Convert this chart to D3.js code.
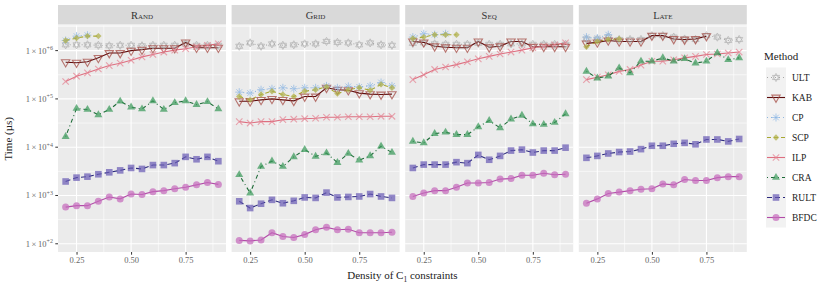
<!DOCTYPE html>
<html>
<head>
<meta charset="utf-8">
<title>Time vs density</title>
<script src="https://d3js.org/d3.v7.min.js" charset="utf-8"></script>
<style>
  body { margin: 0; background: #fff; }
  text { font-family: "Liberation Serif", "Times New Roman", serif; font-weight: 400; }
</style>
</head>
<body>
<script>
// x values (density of C1 constraints)
const density = [0.20, 0.25, 0.30, 0.35, 0.40, 0.45, 0.50, 0.55, 0.60, 0.65, 0.70, 0.75, 0.80, 0.85, 0.90];
const panels = ["Rand", "Grid", "Seq", "Late"];
const methods = ["ULT", "KAB", "CP", "SCP", "ILP", "CRA", "RULT", "BFDC"];
const yTicks = [2, 3, 4, 5, 6];      // exponents of the labelled breaks
const xTicks = [0.25, 0.50, 0.75];

// log10 of time (µs); series start at density 0.20
const rand = {
  ULT:  [6.12, 6.12, 6.12, 6.11, 6.10, 6.11, 6.11, 6.10, 6.11, 6.11, 6.11, 6.14, 6.11, 6.11, 6.11],
  KAB:  [5.76, 5.75, 5.77, 5.85, 5.95, 5.95, 6.00, 6.02, 6.05, 6.05, 6.05, 6.17, 6.06, 6.06, 6.06],
  CP:   [6.21, 6.30, 6.32],
  SCP:  [6.21, 6.26, 6.30, 6.30],
  ILP:  [5.36, 5.47, 5.54, 5.62, 5.69, 5.74, 5.80, 5.87, 5.92, 5.97, 6.01, 6.04, 6.08, 6.11, 6.14],
  CRA:  [4.22, 4.80, 4.78, 4.67, 4.78, 4.95, 4.83, 4.79, 4.96, 4.78, 4.92, 4.96, 4.88, 4.94, 4.79],
  RULT: [3.29, 3.37, 3.39, 3.44, 3.48, 3.52, 3.57, 3.55, 3.63, 3.63, 3.67, 3.80, 3.75, 3.80, 3.71],
  BFDC: [2.76, 2.79, 2.79, 2.88, 2.97, 2.93, 3.03, 3.02, 3.08, 3.10, 3.14, 3.17, 3.22, 3.27, 3.23]
};
const grid = {
  ULT:  [6.09, 6.16, 6.09, 6.14, 6.11, 6.12, 6.14, 6.14, 6.19, 6.17, 6.16, 6.12, 6.16, 6.12, 6.11],
  KAB:  [4.95, 4.95, 4.98, 5.00, 4.98, 4.96, 5.05, 5.05, 5.23, 5.19, 5.18, 5.12, 5.10, 5.09, 5.10],
  CP:   [5.14, 5.12, 5.19, 5.21, 5.23, 5.21, 5.23, 5.23, 5.27, 5.23, 5.26, 5.25, 5.27, 5.34, 5.27],
  SCP:  [5.05, 4.98, 5.09, 5.16, 5.09, 5.05, 5.16, 5.19, 5.25, 5.11, 5.19, 5.23, 5.18, 5.30, 5.23],
  ILP:  [4.53, 4.50, 4.53, 4.53, 4.57, 4.58, 4.59, 4.60, 4.62, 4.62, 4.63, 4.63, 4.63, 4.64, 4.64],
  CRA:  [3.43, 3.05, 3.60, 3.71, 3.60, 3.80, 3.95, 3.81, 3.88, 3.68, 3.87, 3.73, 3.82, 4.02, 3.89],
  RULT: [2.88, 2.74, 2.83, 2.91, 2.84, 2.89, 2.96, 2.95, 3.06, 2.96, 2.97, 2.98, 3.03, 2.98, 2.95],
  BFDC: [2.07, 2.06, 2.08, 2.23, 2.15, 2.13, 2.19, 2.29, 2.34, 2.29, 2.30, 2.23, 2.23, 2.23, 2.24]
};
const seq = {
  ULT:  [6.15, 6.16, 6.14, 6.13, 6.13, 6.13, 6.15, 6.13, 6.13, 6.14, 6.14, 6.13, 6.13, 6.13, 6.13],
  KAB:  [6.19, 6.17, 6.09, 6.07, 6.06, 6.06, 6.19, 6.07, 6.09, 6.19, 6.19, 6.08, 6.08, 6.08, 6.08],
  CP:   [6.28, 6.35, 6.33, 6.35],
  SCP:  [6.25, 6.28, 6.33, 6.33, 6.33],
  ILP:  [5.40, 5.50, 5.61, 5.66, 5.71, 5.77, 5.83, 5.88, 5.93, 5.97, 6.01, 6.06, 6.09, 6.12, 6.16],
  CRA:  [4.12, 4.09, 4.28, 4.31, 4.26, 4.26, 4.42, 4.55, 4.40, 4.58, 4.66, 4.48, 4.47, 4.51, 4.69],
  RULT: [3.57, 3.64, 3.64, 3.64, 3.69, 3.67, 3.84, 3.74, 3.82, 3.93, 3.95, 3.89, 3.93, 3.93, 3.99],
  BFDC: [2.98, 3.05, 3.10, 3.10, 3.17, 3.26, 3.26, 3.27, 3.34, 3.35, 3.42, 3.42, 3.46, 3.43, 3.44]
};
const late = {
  ULT:  [6.24, 6.24, 6.28, 6.23, 6.23, 6.23, 6.31, 6.31, 6.28, 6.24, 6.23, 6.31, 6.28, 6.21, 6.23],
  KAB:  [6.15, 6.17, 6.21, 6.19, 6.19, 6.19, 6.31, 6.31, 6.24, 6.23, 6.24, 6.30],
  CP:   [6.28, 6.26, 6.33],
  SCP:  [6.08, 6.19, 6.23, 6.24],
  ILP:  [5.40, 5.45, 5.50, 5.57, 5.61, 5.70, 5.78, 5.78, 5.81, 5.85, 5.88, 5.92, 5.93, 5.95, 5.97],
  CRA:  [5.57, 5.43, 5.47, 5.64, 5.54, 5.78, 5.78, 5.85, 5.78, 5.83, 5.74, 5.78, 5.95, 5.81, 5.85],
  RULT: [3.78, 3.82, 3.87, 3.90, 3.91, 3.96, 4.03, 4.03, 4.07, 4.09, 4.06, 4.16, 4.16, 4.12, 4.17],
  BFDC: [2.84, 2.93, 3.04, 3.07, 3.10, 3.13, 3.14, 3.24, 3.22, 3.33, 3.31, 3.31, 3.37, 3.39, 3.39]
};
const panelData = [rand, grid, seq, late];

// look of each method (line colour, point colour, dash, shape)
const style = {
  ULT:  {line: "#a6a6a6", pt: "#a3a3a3", dash: "1,3",     shape: "star"},
  KAB:  {line: "#5e0d0d", pt: "#a2463f", dash: null,      shape: "tridown"},
  CP:   {line: "#8fb6e0", pt: "#8fb8e4", dash: "1,3",     shape: "asterisk"},
  SCP:  {line: "#a8a832", pt: "#b0b048", dash: "4,3",     shape: "diamond"},
  ILP:  {line: "#de6f80", pt: "#e58594", dash: null,      shape: "cross"},
  CRA:  {line: "#1d6b37", pt: "#3b9a5b", dash: "1,3,4,3", shape: "triup"},
  RULT: {line: "#2c2a7e", pt: "#6b5db6", dash: "5,3",     shape: "square"},
  BFDC: {line: "#b24ca8", pt: "#c66cbd", dash: null,      shape: "circle"}
};

const W = 830, H = 291;
const svg = d3.select("body").append("svg").attr("width", W).attr("height", H);

const plotTop = 25.5, plotBottom = 252;
const panelW = 168, gap = 5.6, left0 = 58;

const y = d3.scaleLog().domain([Math.pow(10, 1.83), Math.pow(10, 6.52)]).range([plotBottom, plotTop]);
const x = d3.scaleLinear().domain([0.165, 0.935]).range([0, panelW]);

function drawShape(g, shape, cx, cy, c) {
  if (shape === "star") {
    const r = 4.1;
    const up = d3.range(3).map(i => [cx + r * Math.sin(i * 2 * Math.PI / 3), cy - r * Math.cos(i * 2 * Math.PI / 3)]);
    const dn = up.map(p => [p[0], 2 * cy - p[1]]);
    g.append("polygon").attr("points", up.join(" ")).attr("fill", "none").attr("stroke", c).attr("stroke-width", 0.8);
    g.append("polygon").attr("points", dn.join(" ")).attr("fill", "none").attr("stroke", c).attr("stroke-width", 0.8);
  } else if (shape === "tridown") {
    const r = 4.8;
    const pts = [[cx - r * 0.87, cy - r * 0.5], [cx + r * 0.87, cy - r * 0.5], [cx, cy + r]];
    g.append("polygon").attr("points", pts.join(" ")).attr("fill", "none").attr("stroke", c).attr("stroke-width", 1.1);
  } else if (shape === "asterisk") {
    const r = 4;
    const a = r * 0.707;
    g.append("path")
      .attr("d", `M${cx - r},${cy}H${cx + r}M${cx},${cy - r}V${cy + r}M${cx - a},${cy - a}L${cx + a},${cy + a}M${cx - a},${cy + a}L${cx + a},${cy - a}`)
      .attr("stroke", c).attr("stroke-width", 1).attr("fill", "none");
  } else if (shape === "diamond") {
    const r = 3.2;
    g.append("polygon").attr("points", [[cx, cy - r], [cx + r, cy], [cx, cy + r], [cx - r, cy]].join(" ")).attr("fill", c);
  } else if (shape === "cross") {
    const r = 3.2;
    g.append("path")
      .attr("d", `M${cx - r},${cy - r}L${cx + r},${cy + r}M${cx - r},${cy + r}L${cx + r},${cy - r}`)
      .attr("stroke", c).attr("stroke-width", 1.1).attr("fill", "none");
  } else if (shape === "triup") {
    const r = 4.6;
    const pts = [[cx, cy - r], [cx + r * 0.87, cy + r * 0.5], [cx - r * 0.87, cy + r * 0.5]];
    g.append("polygon").attr("points", pts.join(" ")).attr("fill", c);
  } else if (shape === "square") {
    const r = 3.3;
    g.append("rect").attr("x", cx - r).attr("y", cy - r).attr("width", 2 * r).attr("height", 2 * r).attr("fill", c);
  } else if (shape === "circle") {
    g.append("circle").attr("cx", cx).attr("cy", cy).attr("r", 3.5).attr("fill", c);
  }
}

const line = d3.line().x(d => x(d[0])).y(d => y(d[1]));

panels.forEach((name, pi) => {
  const px = left0 + pi * (panelW + gap);
  const g = svg.append("g").attr("transform", `translate(${px},0)`);

  // strip
  g.append("rect").attr("x", 0).attr("y", 5).attr("width", panelW).attr("height", plotTop - 6).attr("fill", "#d9d9d9");
  g.append("text").attr("x", panelW / 2).attr("y", 18.5).attr("text-anchor", "middle")
    .attr("font-size", 10.5).attr("fill", "#333").style("font-variant", "small-caps").text(name);

  // panel background + grid
  g.append("rect").attr("x", 0).attr("y", plotTop).attr("width", panelW).attr("height", plotBottom - plotTop).attr("fill", "#ebebeb");
  const minorY = [2.5, 3.5, 4.5, 5.5, 6.5];
  minorY.forEach(e => {
    const yy = y(Math.pow(10, e));
    if (yy >= plotTop) g.append("line").attr("x1", 0).attr("x2", panelW).attr("y1", yy).attr("y2", yy).attr("stroke", "#fff").attr("stroke-width", 0.6);
  });
  [0.375, 0.625, 0.875].forEach(v => {
    g.append("line").attr("x1", x(v)).attr("x2", x(v)).attr("y1", plotTop).attr("y2", plotBottom).attr("stroke", "#fff").attr("stroke-width", 0.6);
  });
  yTicks.forEach(e => {
    const yy = y(Math.pow(10, e));
    g.append("line").attr("x1", 0).attr("x2", panelW).attr("y1", yy).attr("y2", yy).attr("stroke", "#fff").attr("stroke-width", 1.1);
  });
  xTicks.forEach(v => {
    g.append("line").attr("x1", x(v)).attr("x2", x(v)).attr("y1", plotTop).attr("y2", plotBottom).attr("stroke", "#fff").attr("stroke-width", 1.1);
  });

  // x axis
  const xa = g.append("g").attr("transform", `translate(0,${plotBottom})`)
    .call(d3.axisBottom(x).tickValues(xTicks).tickFormat(d3.format(".2f")).tickSize(2.7).tickPadding(2));
  xa.select(".domain").remove();
  xa.selectAll("line").attr("stroke", "#333");
  xa.selectAll("text").attr("fill", "#666").attr("font-size", 8.5);

  // data
  const data = panelData[pi];
  const clip = "clip" + pi;
  g.append("clipPath").attr("id", clip).append("rect").attr("x", 0).attr("y", plotTop).attr("width", panelW).attr("height", plotBottom - plotTop);
  const lines = g.append("g").attr("clip-path", `url(#${clip})`);
  const pts = g.append("g");
  methods.forEach(m => {
    const s = style[m];
    const series = data[m].map((v, i) => [density[i], Math.pow(10, v)]);
    lines.append("path").datum(series).attr("d", line).attr("fill", "none")
      .attr("stroke", s.line).attr("stroke-width", 1.1).attr("stroke-dasharray", s.dash);
  });
  methods.forEach(m => {
    const s = style[m];
    const pg = pts.append("g").attr("opacity", 0.72);
    data[m].forEach((v, i) => drawShape(pg, s.shape, x(density[i]), y(Math.pow(10, v)), s.pt));
  });

  // y axis on first panel only
  if (pi === 0) {
    const ya = g.append("g");
    yTicks.forEach(e => {
      const yy = y(Math.pow(10, e));
      ya.append("line").attr("x1", -2.7).attr("x2", 0).attr("y1", yy).attr("y2", yy).attr("stroke", "#333");
      const t = ya.append("text").attr("x", -5).attr("y", yy + 3).attr("text-anchor", "end").attr("fill", "#666").attr("font-size", 8.5);
      t.append("tspan").text("1\u2009\u00d7\u200910");
      t.append("tspan").attr("dy", -3.5).attr("font-size", 6).text("+" + e);
    });
  }
});

// axis titles
svg.append("text").attr("x", left0 + (4 * panelW + 3 * gap) / 2).attr("y", 279).attr("text-anchor", "middle")
  .attr("font-size", 11).attr("fill", "#222")
  .call(t => {
    t.append("tspan").text("Density of C");
    t.append("tspan").attr("dy", 2.5).attr("font-size", 7.5).text("1");
    t.append("tspan").attr("dy", -2.5).text(" constraints");
  });
svg.append("text").attr("transform", `translate(12,${(plotTop + plotBottom) / 2}) rotate(-90)`)
  .attr("text-anchor", "middle").attr("font-size", 11).attr("fill", "#222").text("Time (\u00b5s)");

// legend
const lg = svg.append("g").attr("transform", "translate(766,0)");
lg.append("text").attr("x", -2).attr("y", 60).attr("font-size", 11).attr("fill", "#222").text("Method");
lg.append("rect").attr("x", 0).attr("y", 67.5).attr("width", 20).attr("height", 160).attr("fill", "#f2f2f2");
methods.forEach((m, i) => {
  const s = style[m];
  const cy = 77.5 + i * 20;
  lg.append("line").attr("x1", 1).attr("x2", 19).attr("y1", cy).attr("y2", cy)
    .attr("stroke", s.line).attr("stroke-width", 1.1).attr("stroke-dasharray", s.dash);
  const kg = lg.append("g").attr("opacity", 0.72);
  drawShape(kg, s.shape, 10, cy, s.pt);
  lg.append("text").attr("x", 26).attr("y", cy + 3.5).attr("font-size", 9.5).attr("fill", "#222").text(m);
});
</script>
</body>
</html>
